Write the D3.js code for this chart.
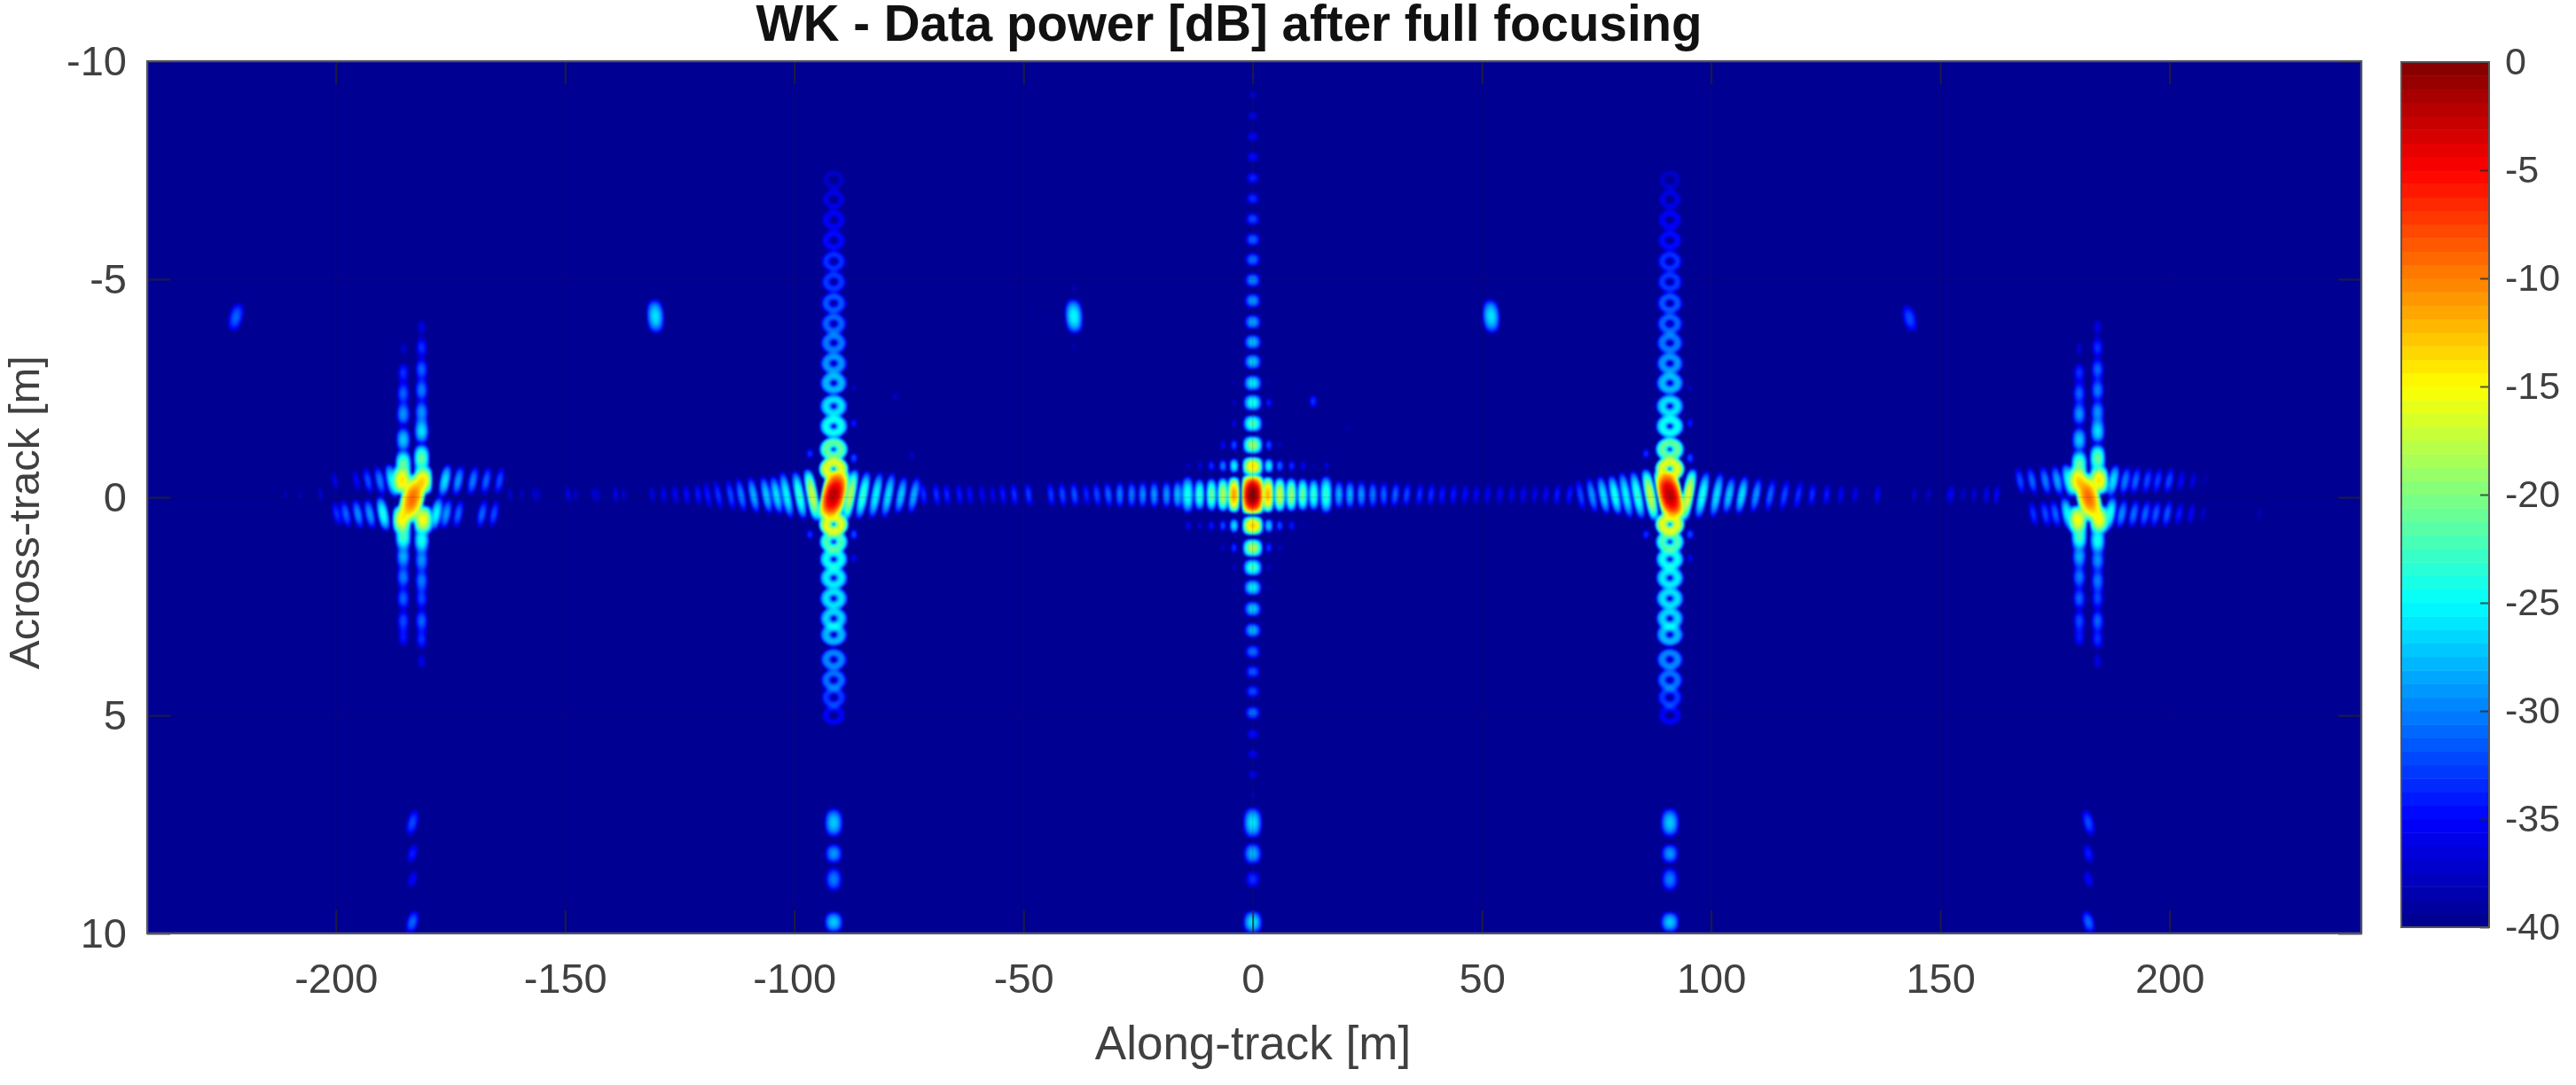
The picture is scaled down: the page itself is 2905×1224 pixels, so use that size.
<!DOCTYPE html>
<html>
<head>
<meta charset="utf-8">
<script src="https://cdn.jsdelivr.net/npm/d3@7"></script>
<style>
  html, body { margin: 0; padding: 0; background: #fff; }
  #chart { position: relative; width: 2905px; height: 1224px; overflow: hidden; }
  #chart canvas { position: absolute; filter: blur(1.3px); }
  #chart svg { position: absolute; left: 0; top: 0; }
  text { font-family: "Liberation Sans", Arial, sans-serif; fill: #404040; }
</style>
</head>
<body>
<div id="chart"></div>
<script>
// ---- axis data ----
var alongTicks = [-200, -150, -100, -50, 0, 50, 100, 150, 200];
var acrossTicks = [-10, -5, 0, 5, 10];
var powerTicks = [0, -5, -10, -15, -20, -25, -30, -35, -40];
var powerStops = [-40, -35, -25, -15, -5, 0];
var jetColors = ["#00008b", "#0000ff", "#00ffff", "#ffff00", "#ff0000", "#800000"];

// ---- targets (along-track m) ----
var peakAlong = [-183.3, -91.4, 0, 91, 182.3];
var peakAcross = [0.03, -0.05, -0.06, -0.05, 0.0];
var peakDb = [-9, -2, 0, -2, -9];

// centre target, vertical side lobes
var centreColAcross = [-9.67, -9.23, -8.74, -8.27, -7.8, -7.32, -6.85, -6.38, -5.91, -5.45, -4.98, -4.51, -4.02, -3.56, -3.11, -2.62, -2.17, -1.69, -1.2, -0.71, 0.65, 1.16, 1.61, 2.07, 2.56, 3.05, 3.54, 4.0, 4.45, 4.94, 5.43, 5.89, 6.36, 6.83];
var centreColDb = [-38, -37, -36, -35, -34.5, -33.5, -33, -32, -31, -30.5, -29.5, -29, -28.5, -27.5, -27, -25.5, -24, -22, -19, -14, -13, -18, -22.5, -25.5, -27, -28, -30.5, -31.5, -32, -30.5, -34.5, -35.5, -36, -38];

// centre target, off-axis lobes
var offAlong = [-14.06, -11.5, -9, -6.5, -4.06, 3.5, 5.9, 8.5, 11, 13.3, 16.1, -6.5, -4.06, 3.5, 5.9, -4.06, 3.5, -4.06, 3.5, -4.06, 3.5, -14.06, -11.5, -9, -6.5, -4.06, 3.5, 5.9, 8.5, 11, -6.5, -4.06, 3.5, 5.9, -4.06, 3.5, -4.06, 3.5];
var offAcross = [-0.72, -0.72, -0.72, -0.72, -0.72, -0.72, -0.72, -0.72, -0.72, -0.72, -0.72, -1.2, -1.2, -1.2, -1.2, -1.69, -1.69, -2.17, -2.17, -2.62, -2.62, 0.65, 0.65, 0.65, 0.65, 0.65, 0.65, 0.65, 0.65, 0.65, 1.16, 1.16, 1.16, 1.16, 1.6, 1.6, 2.07, 2.07];
var offDb = [-37, -36, -33, -30, -25, -25, -31, -33, -35, -38, -36, -35, -32, -32, -37, -36, -38, -37, -34, -38, -38, -35, -36, -34, -32, -26, -27, -32, -34, -38, -37, -33, -33, -37, -37, -37, -38, -38];

// main horizontal row between the targets
var rowAlong = [-211, -207.8, -203.3, -162, -159.4, -156.8, -155.5, -149.4, -147.7, -143.9, -142.7, -139, -137.2, -131, -128.5, -126, -123.5, -121,
  -71.8, -69, -66.7, -64, -61.7, -59, -56.7, -54.5, -52, -48.9, -44, -41.5, -38.9, -36.3, -34, -31.5, -29, -26.4, -24, -21.5, -18.8, -16.4, -14.2, -11.6, -9, -6.5, -4.1,
  3.3, 5.9, 8.4, 10.9, 13.3, 16, 18.8, 21.2, 23.7, 26.2, 28.6, 31.1, 33.6, 36.4, 38.9, 41.3, 43.8, 46.3, 48.7, 51.2, 53.9, 56.5, 59, 61.5, 63.9, 66.4, 69.1,
  122, 125.2, 128.3, 131.4, 136.3, 144.3, 147.4, 151.7, 152.6, 155, 157.4, 160, 162.3];
var rowDb = [-38, -38, -37, -37, -37.5, -37, -38, -36, -37, -37.5, -37.5, -36, -37, -36, -35.5, -35, -34.5, -34,
  -33, -33, -33.5, -34, -34.5, -35, -35.5, -34, -33, -32.5, -32.5, -32, -31.5, -33.5, -32, -31, -30, -30, -29.5, -29, -29, -27.5, -24, -23, -21, -18, -11,
  -12, -17, -19, -21, -23, -23, -28, -28, -29, -30, -31, -31, -32, -33, -33, -34, -34, -34.5, -35, -35, -35, -35.5, -35, -35.5, -35, -34, -34,
  -33, -34, -35, -35.5, -35, -37, -37, -37.5, -36.5, -37, -36.5, -35.5, -35];

// tall fanned lobes next to the targets at about +-91 m
var fanAlong = [-118.9, -116.6, -113.9, -111.6, -108.9, -106.1, -103.9, -101.7, -98.9, -96.1, -87.8, -85, -82.2, -79.5, -76.7, -73.9,
  71.5, 74, 76.5, 79, 81.4, 83.9, 86.7, 95, 98.1, 101.2, 103.9, 106.7, 109.8, 112.9, 116, 119];
var fanDb = [-34, -33, -32, -30, -28, -27, -26, -25, -23, -17, -18, -23, -25, -26, -27, -28,
  -32, -29, -26, -24, -25, -23, -17, -16, -24, -26, -27, -26, -29, -31, -32, -33];

// double rows next to the targets at about +-183 m
var upperAlong = [-200.2, -195.5, -193, -190.4, -187.8, -176.2, -173.3, -170.1, -167.2, -164.3, 167.4, 170, 172.9, 175.5, 178, 187.7, 190.3, 192.6, 195.1, 197.4, 199.9, 202.5, 205.1, 207.7];
var upperDb = [-36, -35, -32, -30, -25, -26, -29, -30, -31, -32, -32, -31, -30, -28.5, -24, -26, -30, -31, -32, -32.5, -32, -35, -36, -38];
var lowerAlong = [-199.8, -197.8, -195.2, -192.6, -189.7, -178.1, -175.9, -173.3, -168.1, -165.5, 170.3, 172.9, 175.1, 177.7, 187, 189.6, 192.2, 194.7, 197, 199.5, 202.1, 204.7, 207.3, 219.6];
var lowerDb = [-33, -31, -29.5, -29, -24, -25, -29, -31, -31, -32, -33, -32, -31, -25, -24, -29.5, -30.5, -31, -31.5, -31.5, -34, -35, -37, -38];

// ring chain column of the +-91 m targets
var ringAcross = [-7.28, -6.83, -6.36, -5.89, -5.41, -4.94, -4.45, -3.98, -3.54, -3.07, -2.62, -2.09, -1.63, -1.1, -0.65, 0.62, 1.02, 1.42, 1.85, 2.32, 2.78, 3.15, 3.72, 4.19, 4.59, 5.0];
var ringDb = [-37, -36, -35, -34.5, -33, -32.5, -31.5, -31, -30, -29, -27.5, -26, -24.5, -21, -16, -16, -22, -24.5, -25.5, -26, -26.5, -27.5, -29.5, -30.5, -32.5, -35];
var ringOffset = [-5.2, 4.4, 4.4, 4.4, -5.2, 4.4, 4.4];
var ringOffAcross = [-1.0, -0.9, -1.7, -2.5, 0.85, 0.85, 1.4];
var ringOffDb = [-33, -32, -34, -37, -33, -32, -35];

// double columns of the +-183 m targets
var leftColAcross = [-3.4, -2.85, -2.38, -1.91, -1.32, -0.75, 0.89, 1.36, 1.83, 2.32, 2.83, 3.21];
var leftColDb = [-37, -33, -31, -29, -27, -21, -22, -28, -30, -31, -32, -34];
var rightColAcross = [-3.9, -3.43, -2.93, -2.46, -1.95, -1.52, -0.89, 0.98, 1.44, 1.91, 2.32, 2.83, 3.25, 3.76];
var rightColDb = [-36, -33, -31, -30, -29, -26, -21, -24, -29, -30, -32, -31, -33, -36];
var cornerAlong = [-2.3, 2.3, -2.3, 2.3];
var cornerAcross = [-0.42, -0.42, 0.48, 0.48];
var cornerDb = [-14, -14, -15, -15];

// ghost images
var sideGhostAlong = [-221.8, -130.3, -39, 52, 143.3];
var sideGhostAcross = [-4.13, -4.15, -4.15, -4.15, -4.1];
var sideGhostDb = [-31, -26, -25, -26, -32];
var lowGhostAcross = [7.46, 8.17, 8.76, 9.74];
var lowGhostDb0 = [-26, -28, -33, -26];
var lowGhostDb91 = [-27, -29, -30, -27];
var lowGhostDb183 = [-32, -34, -35, -31];
var speckAlong = [-77.9, -74.4, -48, -45, 13.2, 20.8, -39, -39];
var speckAcross = [-2.3, -0.97, -4.1, -4.1, -2.2, -1.6, -4.8, -3.45];
var speckDb = [-37, -37, -38.5, -38.5, -33, -38, -38, -38];

// ---- layout ----
var plotLeft = 166, plotRight = 2663, plotTop = 69, plotBottom = 1053;
var barLeft = 2708, barRight = 2807, barTop = 70, barBottom = 1046;
var levels = 64;

var x = d3.scaleLinear().domain([-241.15, 241.85]).range([plotLeft, plotRight]);
var y = d3.scaleLinear().domain([-10, 10]).range([plotTop, plotBottom]);
var barY = d3.scaleLinear().domain([0, -40]).range([barTop, barBottom]);
var jet = d3.scaleLinear().domain(powerStops).range(jetColors).clamp(true);

function levelColor(db) {
  var i = Math.max(0, Math.min(levels - 1, Math.floor((db + 40) / 40 * levels)));
  return jet(-40 + (i + 0.5) * 40 / levels);
}
function plainLabel(d) { return String(d); }

// ---- lobes ----
var lobes = [];
function addLobe(along, across, db, wx, wy, lean, ring) {
  lobes.push({ cx: x(along), cy: y(across), p: Math.pow(10, db / 10), wx: wx, wy: wy, lean: lean || 0, ring: !!ring });
}

peakAlong.forEach(function (a, i) {
  if (i === 2) addLobe(a, peakAcross[i], peakDb[i], 13, 23, 0);
  else if (Math.abs(a) < 100) addLobe(a, peakAcross[i], peakDb[i], 15, 29, a < 0 ? -0.2 : 0.2);
  else addLobe(a, peakAcross[i], peakDb[i], 15, 30, a < 0 ? -0.22 : 0.22);
});

centreColAcross.forEach(function (c, i) { addLobe(0, c, centreColDb[i], 13, 12, 0); });
offAlong.forEach(function (a, i) { addLobe(a, offAcross[i], offDb[i], 7, 11, 0); });

rowAlong.forEach(function (a, i) {
  // lobes lean away from the scene centre the closer they get to the outer targets
  var lean = Math.abs(a) < 30 ? 0 : (a < 0 ? 0.1 : -0.1);
  addLobe(a, -0.06, rowDb[i], a === 16 || a === -14.2 ? 9 : 7.6, a === 16 || a === -14.2 ? 26 : 22, lean);
});

fanAlong.forEach(function (a, i) {
  var target = a < 0 ? peakAlong[1] : peakAlong[3];
  var near = Math.abs(a - target) < 12;
  addLobe(a, -0.05, fanDb[i], 7.8, near ? 33 : 28, a < target ? 0.18 : -0.18);
});

upperAlong.forEach(function (a, i) {
  var target = a < 0 ? peakAlong[0] : peakAlong[4];
  addLobe(a, -0.38, upperDb[i], 8.5, 24, a < target ? 0.18 : -0.18);
});
lowerAlong.forEach(function (a, i) {
  var target = a < 0 ? peakAlong[0] : peakAlong[4];
  addLobe(a, 0.38, lowerDb[i], 8.5, 24, a < target ? 0.18 : -0.18);
});

[peakAlong[1], peakAlong[3]].forEach(function (t, k) {
  ringAcross.forEach(function (c, i) { addLobe(t, c, ringDb[i], 12, 10.5, 0, true); });
  ringOffset.forEach(function (o, i) { addLobe(t + o, ringOffAcross[i], ringOffDb[i], 7.5, 10, 0); });
  lowGhostAcross.forEach(function (c, i) { addLobe(t, c, lowGhostDb91[i], 14, i === 0 ? 22 : (i === 2 ? 20 : 16), 0); });
});

[peakAlong[0], peakAlong[4]].forEach(function (t) {
  leftColAcross.forEach(function (c, i) { addLobe(t - 2, c, leftColDb[i], 11, 19, 0); });
  rightColAcross.forEach(function (c, i) { addLobe(t + 2, c, rightColDb[i], 11, 19, 0); });
  cornerAlong.forEach(function (o, i) { addLobe(t + o, 0.03 + cornerAcross[i], cornerDb[i], 12, 18, 0); });
  lowGhostAcross.forEach(function (c, i) { addLobe(t, c, lowGhostDb183[i], 11, i === 0 ? 24 : 20, t < 0 ? -0.2 : 0.2); });
});

lowGhostAcross.forEach(function (c, i) { addLobe(0, c, lowGhostDb0[i], 14, i === 0 ? 23 : 17, 0); });
sideGhostAlong.forEach(function (a, i) {
  var lean = i === 0 ? -0.2 : (i === 4 ? 0.2 : 0.05);
  addLobe(a, sideGhostAcross[i], sideGhostDb[i], 13, 25, lean);
});
speckAlong.forEach(function (a, i) { addLobe(a, speckAcross[i], speckDb[i], 8, 13, 0); });

// ---- image ----
function sinc2(t) {
  if (Math.abs(t) < 1e-4) return 1;
  var s = Math.sin(Math.PI * t) / (Math.PI * t);
  return s * s;
}

var w = plotRight - plotLeft, h = plotBottom - plotTop;
var field = new Float32Array(w * h);
lobes.forEach(function (l) {
  var px0 = l.cx - plotLeft, py0 = l.cy - plotTop;
  var reach = l.ring ? 1.5 : 1;
  var y0 = Math.max(0, Math.floor(py0 - l.wy * reach)), y1 = Math.min(h - 1, Math.ceil(py0 + l.wy * reach));
  var dxMax = l.wx * reach + Math.abs(l.lean) * l.wy * reach;
  var x0 = Math.max(0, Math.floor(px0 - dxMax)), x1 = Math.min(w - 1, Math.ceil(px0 + dxMax));
  for (var j = y0; j <= y1; j++) {
    for (var i = x0; i <= x1; i++) {
      var dy = j + 0.5 - py0;
      var dx = i + 0.5 - px0 - l.lean * dy;
      var a = dx / l.wx, b = dy / l.wy, v = 0;
      if (l.ring) {
        // filled ring with a small hole, the chain look of these columns
        var r = (Math.sqrt(a * a + b * b) - 0.72) / 0.78;
        if (Math.abs(r) < 1) v = sinc2(r);
      } else if (Math.abs(a) < 1 && Math.abs(b) < 1) {
        v = sinc2(a) * sinc2(b);
      }
      field[j * w + i] += l.p * v;
    }
  }
});

var chart = d3.select("#chart");
var canvas = chart.append("canvas")
  .attr("width", w).attr("height", h)
  .style("left", plotLeft + "px").style("top", plotTop + "px");
var ctx = canvas.node().getContext("2d");
var img = ctx.createImageData(w, h);
var lut = d3.range(levels).map(function (i) {
  return d3.rgb(levelColor(-40 + (i + 0.5) * 40 / levels));
});
for (var k = 0; k < field.length; k++) {
  var db = field[k] > 0 ? 10 * Math.log10(field[k]) : -100;
  var c = lut[Math.max(0, Math.min(levels - 1, Math.floor((db + 40) / 40 * levels)))];
  img.data[k * 4] = c.r; img.data[k * 4 + 1] = c.g; img.data[k * 4 + 2] = c.b; img.data[k * 4 + 3] = 255;
}
ctx.putImageData(img, 0, 0);

// ---- axes ----
var svg = chart.append("svg").attr("width", 2905).attr("height", 1224);

// faint grid
svg.append("g").selectAll("line").data(alongTicks).join("line")
  .attr("x1", function (d) { return x(d); }).attr("x2", function (d) { return x(d); })
  .attr("y1", plotTop).attr("y2", plotBottom)
  .attr("stroke", "#262626").attr("stroke-opacity", 0.13).attr("stroke-width", 1.5);
svg.append("g").selectAll("line").data(acrossTicks).join("line")
  .attr("y1", function (d) { return y(d); }).attr("y2", function (d) { return y(d); })
  .attr("x1", plotLeft).attr("x2", plotRight)
  .attr("stroke", "#262626").attr("stroke-opacity", 0.13).attr("stroke-width", 1.5);

function styleAxis(g, fontSize) {
  g.select(".domain").remove();
  g.selectAll(".tick line").attr("stroke", "#262626").attr("stroke-width", 2).attr("stroke-opacity", 0.75);
  g.selectAll(".tick text").style("font-size", fontSize + "px").attr("fill", "#404040");
}

svg.append("g").attr("transform", "translate(0," + plotBottom + ")")
  .call(d3.axisBottom(x).tickValues(alongTicks).tickFormat(plainLabel).tickSizeInner(-26).tickSizeOuter(0).tickPadding(34))
  .call(styleAxis, 47);
svg.append("g").attr("transform", "translate(0," + plotTop + ")")
  .call(d3.axisTop(x).tickValues(alongTicks).tickFormat("").tickSizeInner(-26).tickSizeOuter(0))
  .call(styleAxis, 47);
svg.append("g").attr("transform", "translate(" + plotLeft + ",0)")
  .call(d3.axisLeft(y).tickValues(acrossTicks).tickFormat(plainLabel).tickSizeInner(-26).tickSizeOuter(0).tickPadding(23))
  .call(styleAxis, 47);
svg.append("g").attr("transform", "translate(" + plotRight + ",0)")
  .call(d3.axisRight(y).tickValues(acrossTicks).tickFormat("").tickSizeInner(-26).tickSizeOuter(0))
  .call(styleAxis, 47);

svg.append("rect")
  .attr("x", plotLeft).attr("y", plotTop)
  .attr("width", plotRight - plotLeft).attr("height", plotBottom - plotTop)
  .attr("fill", "none").attr("stroke", "#555").attr("stroke-width", 2);

// colorbar
var bandHeight = (barBottom - barTop) / levels;
svg.append("g").selectAll("rect").data(d3.range(levels)).join("rect")
  .attr("x", barLeft).attr("width", barRight - barLeft)
  .attr("y", function (i) { return barY(-40 + (i + 1) * 40 / levels); })
  .attr("height", bandHeight + 0.5)
  .attr("fill", function (i) { return levelColor(-40 + (i + 0.5) * 40 / levels); });
svg.append("g").attr("transform", "translate(" + barRight + ",0)")
  .call(d3.axisRight(barY).tickValues(powerTicks).tickFormat(plainLabel).tickSizeInner(-10).tickSizeOuter(0).tickPadding(18))
  .call(styleAxis, 43);
svg.append("rect")
  .attr("x", barLeft).attr("y", barTop)
  .attr("width", barRight - barLeft).attr("height", barBottom - barTop)
  .attr("fill", "none").attr("stroke", "#555").attr("stroke-width", 2);

// titles
svg.append("text").attr("x", 1386).attr("y", 46)
  .attr("text-anchor", "middle").style("font-size", "56.5px").style("font-weight", "bold")
  .style("fill", "#111")
  .text("WK - Data power [dB] after full focusing");
svg.append("text").attr("x", 1413).attr("y", 1195)
  .attr("text-anchor", "middle").style("font-size", "53px")
  .text("Along-track [m]");
svg.append("text").attr("transform", "translate(44,578) rotate(-90)")
  .attr("text-anchor", "middle").style("font-size", "49px")
  .text("Across-track [m]");
</script>
</body>
</html>
